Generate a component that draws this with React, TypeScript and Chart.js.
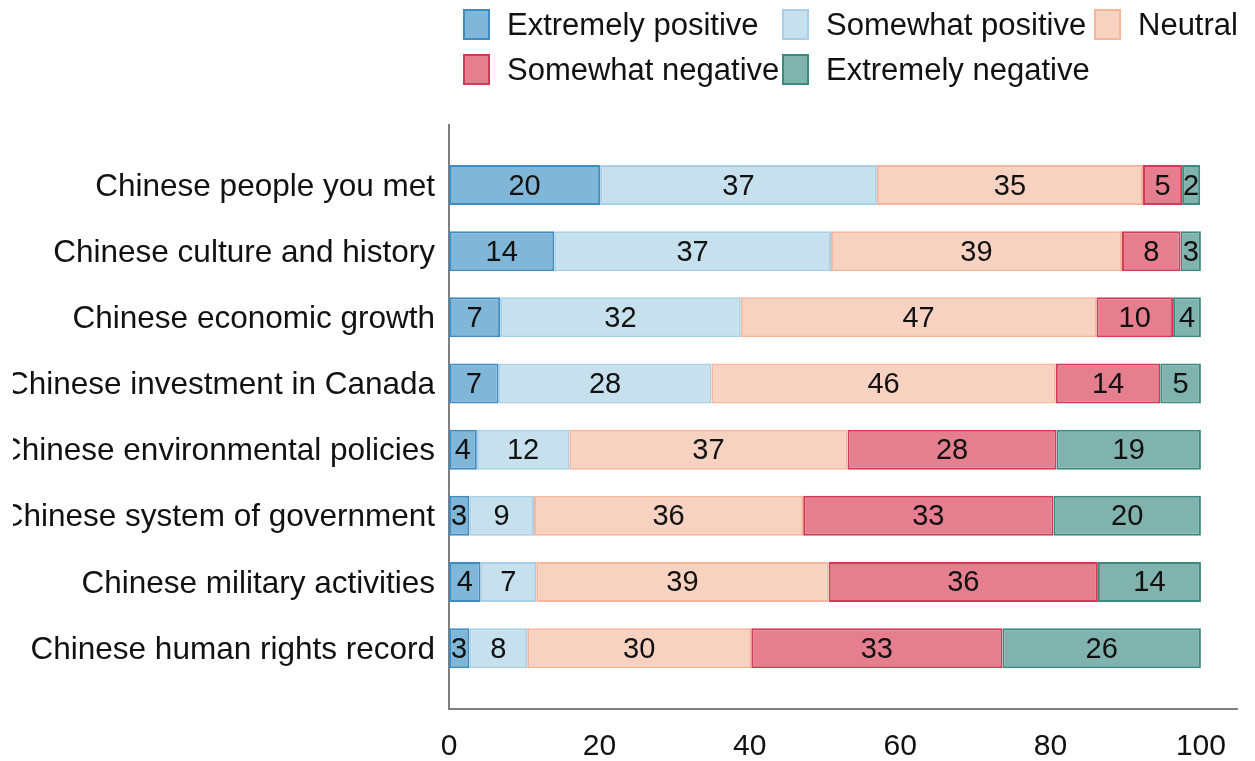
import React, { useEffect, useRef } from 'react';
import { Chart, registerables } from 'chart.js';

Chart.register(...registerables);

const categories = [
  'Chinese people you met',
  'Chinese culture and history',
  'Chinese economic growth',
  'Chinese investment in Canada',
  'Chinese environmental policies',
  'Chinese system of government',
  'Chinese military activities',
  'Chinese human rights record',
];

const seriesNames = [
  'Extremely positive',
  'Somewhat positive',
  'Neutral',
  'Somewhat negative',
  'Extremely negative',
];

const extremelyPositive = [20.1, 14.0, 6.8, 6.6, 3.7, 2.7, 4.2, 2.7];
const somewhatPositive = [36.8, 36.8, 32.0, 28.3, 12.3, 8.6, 7.4, 7.7];
const neutral = [35.4, 38.7, 47.3, 45.8, 37.0, 35.8, 38.9, 29.8];
const somewhatNegative = [5.2, 7.8, 10.2, 13.9, 27.8, 33.3, 35.8, 33.4];
const extremelyNegative = [2.4, 2.7, 3.7, 5.4, 19.2, 19.6, 13.7, 26.4];

const xTickValues = [0, 20, 40, 60, 80, 100];

const seriesValues = [
  extremelyPositive,
  somewhatPositive,
  neutral,
  somewhatNegative,
  extremelyNegative,
];

// styles
const fillColors = ['#80b6d8', '#c7e0ee', '#f8d2c1', '#e57f8f', '#80b3ae'];
const borderColors = ['#3f8cc1', '#a9cfe6', '#f5b69c', '#d43a55', '#3b8a7f'];
const FONT = '"Liberation Sans", Arial, sans-serif';
const TEXT = '#111111';
const AXIS = '#7f7f7f';
const CANVAS_LEFT = 13;

const barLabels = {
  id: 'barLabels',
  afterDatasetsDraw(chart: any) {
    const ctx = chart.ctx;
    ctx.save();
    ctx.font = `29px ${FONT}`;
    ctx.fillStyle = TEXT;
    ctx.textAlign = 'center';
    ctx.textBaseline = 'middle';
    chart.data.datasets.forEach((ds: any, i: number) => {
      const meta = chart.getDatasetMeta(i);
      meta.data.forEach((el: any, j: number) => {
        const { x, base, y } = el.getProps(['x', 'base', 'y'], true);
        const v = ds.data[j].x;
        ctx.fillText(String(Math.round(v)), (x + base) / 2, y + 1.5);
      });
    });
    ctx.restore();
  },
};

export default function App() {
  const ref = useRef<HTMLCanvasElement>(null);

  useEffect(() => {
    const canvas = ref.current;
    if (!canvas) return;
    const chart = new Chart(canvas, {
      type: 'bar',
      data: {
        datasets: seriesNames.map((name, k) => ({
          label: name,
          data: seriesValues[k].map((v, i) => ({ x: v, y: i })),
          backgroundColor: fillColors[k],
          borderColor: borderColors[k],
          borderWidth: 2,
          borderSkipped: false,
          barPercentage: 0.756,
          categoryPercentage: 0.8,
        })),
      },
      options: {
        indexAxis: 'y',
        responsive: false,
        animation: false,
        devicePixelRatio: 1,
        layout: { padding: { top: 125, right: 18, bottom: 0, left: 0 } },
        plugins: {
          legend: { display: false },
          tooltip: { enabled: false },
        },
        scales: {
          x: {
            type: 'linear',
            stacked: true,
            offset: false,
            min: 0,
            max: 104.8,
            grid: { display: false, drawTicks: false },
            border: { display: true, color: AXIS, width: 2 },
            ticks: {
              padding: 20,
              color: TEXT,
              autoSkip: false,
              maxRotation: 0,
              font: { family: FONT, size: 30 },
            },
            afterBuildTicks: (s: any) => {
              s.ticks = xTickValues.map((v) => ({ value: v }));
            },
            afterFit: (s: any) => {
              s.height = 52;
            },
          },
          y: {
            type: 'linear',
            stacked: true,
            reverse: true,
            offset: false,
            min: -0.907,
            max: 7.92,
            grid: { display: false, drawTicks: false, offset: false },
            border: { display: true, color: AXIS, width: 2 },
            ticks: {
              padding: 14,
              labelOffset: 2,
              color: TEXT,
              autoSkip: false,
              font: { family: FONT, size: 31.5 },
              callback: (v: any) => categories[v] ?? '',
            },
            afterBuildTicks: (s: any) => {
              s.ticks = categories.map((_, i) => ({ value: i }));
            },
            afterFit: (s: any) => {
              s.width = 449 - CANVAS_LEFT;
            },
          },
        },
      } as any,
      plugins: [barLabels],
    });
    return () => chart.destroy();
  }, []);

  return (
    <div
      style={{
        position: 'fixed',
        left: 0,
        top: 0,
        width: 1255,
        height: 761,
        background: '#ffffff',
        overflow: 'hidden',
      }}
    >
      <canvas
        ref={ref}
        width={1255 - CANVAS_LEFT}
        height={761}
        style={{
          position: 'absolute',
          left: CANVAS_LEFT,
          top: 0,
          width: 1255 - CANVAS_LEFT,
          height: 761,
        }}
      />
      <div
        style={{
          position: 'absolute',
          left: 463,
          top: 9,
          display: 'grid',
          gridTemplateColumns: '319px 312px 200px',
          rowGap: 14,
          fontFamily: FONT,
          fontSize: 31,
          color: TEXT,
        }}
      >
        {seriesNames.map((name, k) => (
          <div key={name} style={{ display: 'flex', alignItems: 'center', height: 31, whiteSpace: 'nowrap' }}>
            <div
              style={{
                width: 27,
                height: 31,
                boxSizing: 'border-box',
                border: `2px solid ${borderColors[k]}`,
                background: fillColors[k],
                flex: '0 0 auto',
              }}
            />
            <span style={{ marginLeft: 17, lineHeight: '31px' }}>{name}</span>
          </div>
        ))}
      </div>
    </div>
  );
}
